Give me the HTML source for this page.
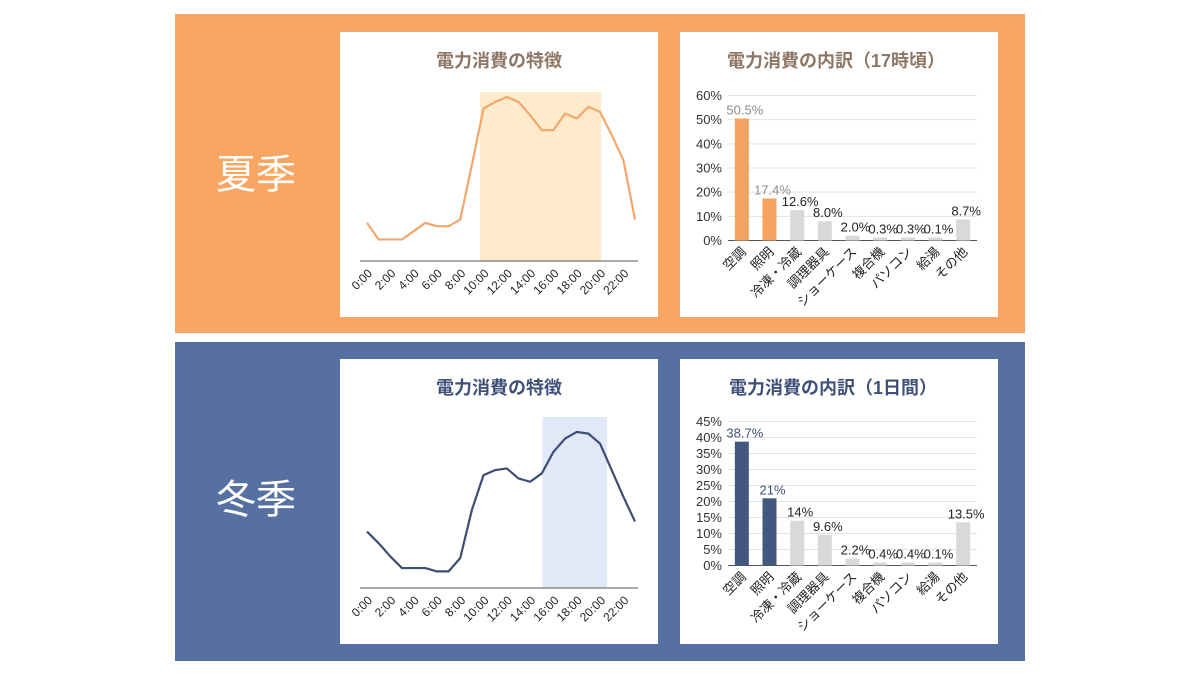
<!DOCTYPE html>
<html><head><meta charset="utf-8"><style>
body{margin:0;background:#fff;}
svg{display:block;font-family:"Liberation Sans","Noto Sans CJK JP",sans-serif;}
</style></head><body>
<svg id="s" width="1200" height="675" xmlns="http://www.w3.org/2000/svg">
<rect x="175" y="14" width="850" height="319" fill="#FAA662"/>
<rect x="175" y="342" width="850" height="319" fill="#5570A1"/>
<text x="256" y="188" font-size="40" fill="#fff" text-anchor="middle">夏季</text>
<text x="256" y="513" font-size="40" fill="#fff" text-anchor="middle">冬季</text>
<rect x="340" y="32" width="318" height="285" fill="#fff"/>
<rect x="680" y="32" width="318" height="285" fill="#fff"/>
<rect x="340" y="359" width="318" height="285" fill="#fff"/>
<rect x="680" y="359" width="318" height="285" fill="#fff"/>
<text x="499" y="67" font-size="18" font-weight="bold" fill="#8E7665" text-anchor="middle">電力消費の特徴</text>
<text x="836" y="67" font-size="18" font-weight="bold" fill="#8E7665" text-anchor="middle">電力消費の内訳（17時頃）</text>
<text x="499" y="394" font-size="18" font-weight="bold" fill="#3F5178" text-anchor="middle">電力消費の特徴</text>
<text x="833" y="394" font-size="18" font-weight="bold" fill="#3F5178" text-anchor="middle">電力消費の内訳（1日間）</text>
</svg>
<script>
const hours = ["0:00","1:00","2:00","3:00","4:00","5:00","6:00","7:00","8:00","9:00","10:00","11:00","12:00","13:00","14:00","15:00","16:00","17:00","18:00","19:00","20:00","21:00","22:00","23:00"];
const summerLoad = [23,13,13,13,18,23,21,21,25,58,92,96,99,96,88,79,79,89,86,93,90,76,61,25];
const winterLoad = [34,27,19,12,12,12,10,10,18,47,68,71,72,66,64,69,82,90,94,93,87,71,55,40];
const summerBand = [9.7,20.1];
const winterBand = [15.05,20.6];
const categories = ["空調","照明","冷凍・冷蔵","調理器具","ショーケース","複合機","パソコン","給湯","その他"];
const summerShare = [50.5,17.4,12.6,8.0,2.0,0.3,0.3,0.1,8.7];
const summerShareLabels = ["50.5%","17.4%","12.6%","8.0%","2.0%","0.3%","0.3%","0.1%","8.7%"];
const summerTicks = [0,10,20,30,40,50,60];
const winterShare = [38.7,21,14,9.6,2.2,0.4,0.4,0.1,13.5];
const winterShareLabels = ["38.7%","21%","14%","9.6%","2.2%","0.4%","0.4%","0.1%","13.5%"];
const winterTicks = [0,5,10,15,20,25,30,35,40,45];

const svg = document.getElementById('s');
const NS = 'http://www.w3.org/2000/svg';
function mk(tag, attrs, parent){const e=document.createElementNS(NS,tag);for(const k in attrs)e.setAttribute(k,attrs[k]);(parent||svg).appendChild(e);return e;}

function lineChart(prefix, vals, band, yBase, yTop, ymax, color, shade){
  const x0=367, x1=635, step=(x1-x0)/(hours.length-1);
  const xs=i=>x0+i*step, ys=v=>yBase-(v/ymax)*(yBase-yTop);
  const g=mk('g',{});
  
  
  const b=mk('rect',{x:xs(band[0]),y:yTop,width:xs(band[1])-xs(band[0]),height:yBase-yTop,fill:shade},g);
  
  
  const ax=mk('line',{x1:360,x2:638,y1:yBase,y2:yBase,stroke:'#555','stroke-width':1},g);
  
  
  const p=mk('polyline',{points:vals.map((v,i)=>xs(i)+','+ys(v)).join(' '),fill:'none',stroke:color,'stroke-width':2.2,'stroke-linejoin':'round'},g);
  
  
  hours.forEach((h,i)=>{ if(i%2) return;
    const x=xs(i)+6, y=yBase+13;
    const t=mk('text',{x:x,y:y,'font-size':12,fill:'#222','text-anchor':'end',transform:`rotate(-45 ${x} ${y})`},g);
    t.textContent=h;
    
    
  });
}
function barChart(prefix, vals, labels, ticks, yBase, yTop, highlight, hiLabelColor){
  const xL=728, xR=977, bw=(xR-xL)/categories.length, ymax=ticks[ticks.length-1];
  const ys=v=>yBase-(v/ymax)*(yBase-yTop);
  const g=mk('g',{});
  
  
  ticks.forEach(t=>{
    const y=ys(t);
    const l=mk('line',{x1:xL,x2:xR,y1:y,y2:y,stroke:t===0?'#555':'#E3E3E3','stroke-width':1},g);
    
    
    const tx=mk('text',{x:722,y:y+4.5,'font-size':13,fill:'#333','text-anchor':'end'},g);
    tx.textContent=t+'%';
    
    
  });
  vals.forEach((v,i)=>{
    const cx=xL+bw*(i+0.5);
    const hi=i<2;
    const top=Math.min(ys(v), yBase-3);
    const r=mk('rect',{x:cx-7,y:top,width:14,height:yBase-top,fill:hi?highlight:'#D9D9D9'},g);
    
    
    const lt=mk('text',{x:cx+3,y:top-4,'font-size':13,fill:hi?hiLabelColor:'#222','text-anchor':'middle'},g);
    lt.textContent=labels[i];
    
    
    const x=cx+5, y=yBase+12;
    const ct=mk('text',{x:x,y:y,'font-size':13,fill:'#222','text-anchor':'end',transform:`rotate(-45 ${x} ${y})`},g);
    ct.textContent=categories[i];
    
    
  });
}
lineChart('summer', summerLoad, summerBand, 261, 92, 102, '#F3A76C', '#FDEBCB');
lineChart('winter', winterLoad, winterBand, 588, 417, 103, '#3D4E72', '#E1E9F8');
barChart('summer', summerShare, summerShareLabels, summerTicks, 240.5, 95.5, '#F7A25E', '#8C8C8C');
barChart('winter', winterShare, winterShareLabels, winterTicks, 565.5, 421.5, '#43587F', '#3F5178');
</script>
</body></html>
